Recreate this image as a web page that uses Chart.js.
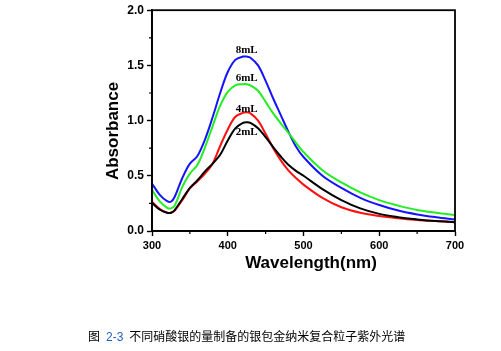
<!DOCTYPE html>
<html>
<head>
<meta charset="utf-8">
<script src="https://cdn.jsdelivr.net/npm/chart.js@4/dist/chart.umd.min.js"></script>
<style>
  html, body { margin: 0; padding: 0; background: #fff; }
  #wrap { position: relative; width: 501px; height: 351px; }
  #c { position: absolute; left: 0; top: 0; }
  #cap { position: absolute; left: 88px; top: 328px; font-family: "Noto Sans CJK SC", sans-serif; font-size: 12px; color: #000; white-space: nowrap; line-height: 16px; }
  #cap .num { color: #1f5fc4; font-family: "Liberation Sans", Arial, sans-serif; margin-left: 6px; margin-right: 6px; }
</style>
</head>
<body>
<div id="wrap">
  <canvas id="c" width="501" height="351"></canvas>
  <div id="cap">图<span class="num">2-3</span>不同硝酸银的量制备的银包金纳米复合粒子紫外光谱</div>
</div>
<script>
// ---- data ----
const wavelengths = [300,310,320,325,330,340,350,360,370,380,390,400,410,420,425,430,440,450,460,470,480,490,500,525,550,575,600,625,650,675,700];
const seriesNames = ['2mL','4mL','6mL','8mL'];
const abs2mL = [0.255,0.195,0.165,0.165,0.19,0.29,0.39,0.46,0.54,0.61,0.69,0.82,0.93,0.98,0.985,0.98,0.93,0.85,0.76,0.675,0.60,0.545,0.50,0.38,0.28,0.205,0.155,0.125,0.105,0.09,0.08];
const abs4mL = [0.265,0.20,0.165,0.165,0.185,0.28,0.385,0.45,0.52,0.61,0.77,0.92,1.035,1.07,1.075,1.065,1.00,0.88,0.75,0.64,0.55,0.48,0.42,0.30,0.215,0.165,0.135,0.115,0.10,0.09,0.08];
const abs6mL = [0.375,0.27,0.21,0.205,0.23,0.40,0.52,0.60,0.76,0.95,1.135,1.26,1.32,1.33,1.33,1.32,1.27,1.17,1.065,0.975,0.89,0.80,0.715,0.55,0.44,0.35,0.28,0.23,0.19,0.165,0.145];
const abs8mL = [0.43,0.33,0.27,0.265,0.31,0.48,0.61,0.68,0.83,1.03,1.25,1.44,1.55,1.58,1.58,1.57,1.50,1.36,1.20,1.05,0.90,0.765,0.67,0.50,0.39,0.30,0.235,0.185,0.15,0.125,0.105];
const xTicks = [300,400,500,600,700];
const yTicks = [0.0,0.5,1.0,1.5,2.0];
const xMinor = [350,450,550,650];
const yMinor = [0.25,0.75,1.25,1.75];
// curve label anchors (wavelength, absorbance)
const labelX = [425,425,425,425];
const labelY = [0.894,1.105,1.385,1.637];
const xTitle = 'Wavelength(nm)';
const yTitle = 'Absorbance';

const colors = ['#000000','#ff1010','#22ee22','#1414ff'];
const allSeries = [abs2mL, abs4mL, abs6mL, abs8mL];

const datasets = allSeries.map((arr, i) => ({
  label: seriesNames[i],
  data: wavelengths.map((w, k) => ({x: w, y: arr[k]})),
  borderColor: colors[i],
  borderWidth: 2,
  pointRadius: 0,
  fill: false,
  tension: 0.35
}));

const decor = {
  id: 'decor',
  afterDraw(chart) {
    const ctx = chart.ctx, a = chart.chartArea;
    const xs = chart.scales.x, ys = chart.scales.y;
    ctx.save();
    // box
    ctx.strokeStyle = '#000'; ctx.lineWidth = 1.8;
    ctx.strokeRect(a.left, a.top, a.right - a.left, a.bottom - a.top);
    // minor ticks
    ctx.lineWidth = 1.2;
    ctx.beginPath();
    xMinor.forEach(v => { const p = xs.getPixelForValue(v); ctx.moveTo(p, a.bottom); ctx.lineTo(p, a.bottom + 3); });
    yMinor.forEach(v => { const p = ys.getPixelForValue(v); ctx.moveTo(a.left, p); ctx.lineTo(a.left - 3, p); });
    ctx.stroke();
    // curve labels
    ctx.font = 'bold 11px "Liberation Serif", "Times New Roman", serif';
    ctx.fillStyle = '#000'; ctx.textAlign = 'center'; ctx.textBaseline = 'middle';
    seriesNames.forEach((n, i) => {
      ctx.fillText(n, xs.getPixelForValue(labelX[i]), ys.getPixelForValue(labelY[i]));
    });
    // axis titles
    ctx.font = 'bold 17px "Liberation Sans", Arial, sans-serif';
    ctx.textAlign = 'center'; ctx.textBaseline = 'middle';
    ctx.fillText(xTitle, 311, 263);
    ctx.translate(113, 131);
    ctx.rotate(-Math.PI / 2);
    ctx.fillText(yTitle, 0, 0);
    ctx.restore();
  }
};

new Chart(document.getElementById('c'), {
  type: 'line',
  data: { datasets },
  options: {
    responsive: false,
    animation: false,
    devicePixelRatio: 1,
    layout: { padding: { left: 100, top: 9, right: 46, bottom: 0 } },
    plugins: { legend: { display: false }, tooltip: { enabled: false } },
    scales: {
      x: {
        type: 'linear', min: 300, max: 700,
        afterBuildTicks: s => { s.ticks = xTicks.map(v => ({value: v})); },
        afterFit: s => { s.height = 120; },
        ticks: { color: '#000', padding: 3, font: { family: '"Liberation Sans", Arial, sans-serif', size: 11, weight: 'bold' }, maxRotation: 0 },
        grid: { drawOnChartArea: false, tickLength: 5, color: '#000', tickWidth: 1.4 },
        border: { color: '#000', width: 1.8 }
      },
      y: {
        type: 'linear', min: 0, max: 2,
        afterBuildTicks: s => { s.ticks = yTicks.map(v => ({value: v})); },
        afterFit: s => { s.width = 52; },
        ticks: { color: '#000', padding: 3, callback: v => Number(v).toFixed(1), font: { family: '"Liberation Sans", Arial, sans-serif', size: 12, weight: 'bold' } },
        grid: { drawOnChartArea: false, tickLength: 5, color: '#000', tickWidth: 1.4 },
        border: { color: '#000', width: 1.8 }
      }
    }
  },
  plugins: [decor]
});
</script>
</body>
</html>
